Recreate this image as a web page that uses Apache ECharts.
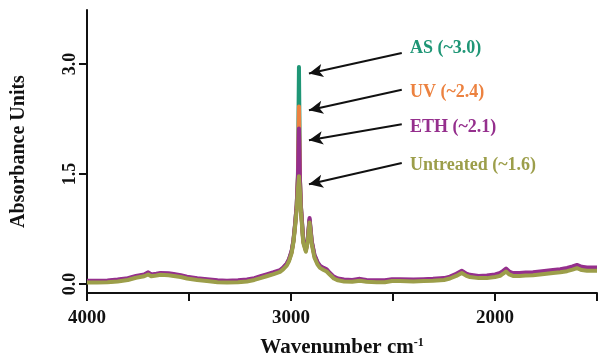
<!DOCTYPE html>
<html>
<head>
<meta charset="utf-8">
<script src="https://cdn.jsdelivr.net/npm/echarts@6/dist/echarts.min.js"></script>
<style>
  html, body { margin: 0; padding: 0; background: #fff; }
  #chart { width: 600px; height: 361px; }
</style>
</head>
<body>
<div id="chart"></div>
<script>
// wavenumber (cm-1), high to low
const wavenumbers = [
  4000, 3950, 3900, 3850, 3800, 3760, 3720, 3700, 3685, 3660,
  3640, 3600, 3575, 3540, 3510, 3460, 3412, 3360, 3314, 3260,
  3216, 3180, 3150, 3120, 3085, 3054, 3040, 3021, 3010, 2997,
  2988, 2980, 2972, 2966, 2961, 2956, 2951, 2940, 2927, 2918,
  2909, 2898, 2885, 2870, 2858, 2840, 2825, 2809, 2790, 2770,
  2740, 2700, 2662, 2630, 2580, 2540, 2505, 2466, 2400, 2350,
  2304, 2250, 2221, 2190, 2163, 2140, 2123, 2080, 2040, 2000,
  1975, 1960, 1946, 1930, 1912, 1880, 1850, 1814, 1780, 1716,
  1680, 1647, 1620, 1598, 1575, 1549, 1520, 1500
];

const asValues = [
  0.035, 0.035, 0.038, 0.05, 0.07, 0.10, 0.12, 0.15, 0.12, 0.13,
  0.14, 0.135, 0.125, 0.11, 0.09, 0.07, 0.055, 0.04, 0.035, 0.04,
  0.05, 0.07, 0.095, 0.12, 0.15, 0.18, 0.21, 0.27, 0.33, 0.44,
  0.59, 0.81, 1.08, 1.48, 2.96, 1.42, 1.04, 0.59, 0.46, 0.61,
  0.88, 0.57, 0.39, 0.29, 0.24, 0.21, 0.19, 0.14, 0.09, 0.065,
  0.05, 0.045, 0.06, 0.045, 0.04, 0.04, 0.055, 0.055, 0.05, 0.055,
  0.06, 0.07, 0.09, 0.13, 0.17, 0.13, 0.115, 0.10, 0.10, 0.115,
  0.135, 0.165, 0.195, 0.155, 0.135, 0.135, 0.14, 0.145, 0.155, 0.175,
  0.185, 0.205, 0.225, 0.245, 0.22, 0.21, 0.21, 0.21
];

const uvValues = [
  0.03, 0.03, 0.033, 0.045, 0.065, 0.095, 0.115, 0.145, 0.115, 0.125,
  0.135, 0.13, 0.12, 0.105, 0.085, 0.065, 0.05, 0.035, 0.03, 0.035,
  0.045, 0.065, 0.09, 0.115, 0.145, 0.175, 0.205, 0.265, 0.325, 0.435,
  0.585, 0.80, 1.07, 1.46, 2.42, 1.41, 1.03, 0.58, 0.455, 0.60,
  0.87, 0.56, 0.38, 0.28, 0.235, 0.205, 0.185, 0.135, 0.085, 0.06,
  0.045, 0.04, 0.055, 0.04, 0.035, 0.035, 0.05, 0.05, 0.045, 0.05,
  0.055, 0.065, 0.085, 0.125, 0.165, 0.125, 0.11, 0.095, 0.095, 0.11,
  0.125, 0.155, 0.185, 0.145, 0.125, 0.125, 0.13, 0.135, 0.145, 0.165,
  0.175, 0.195, 0.215, 0.235, 0.21, 0.20, 0.20, 0.20
];

const ethValues = [
  0.045, 0.045, 0.048, 0.06, 0.08, 0.11, 0.13, 0.16, 0.13, 0.14,
  0.15, 0.145, 0.135, 0.12, 0.10, 0.08, 0.065, 0.05, 0.045, 0.05,
  0.06, 0.08, 0.105, 0.13, 0.16, 0.19, 0.22, 0.28, 0.34, 0.45,
  0.60, 0.82, 1.08, 1.45, 2.12, 1.40, 1.05, 0.60, 0.47, 0.62,
  0.90, 0.58, 0.40, 0.30, 0.25, 0.22, 0.20, 0.15, 0.10, 0.075,
  0.06, 0.055, 0.07, 0.055, 0.05, 0.05, 0.065, 0.065, 0.06, 0.065,
  0.07, 0.08, 0.10, 0.14, 0.18, 0.14, 0.125, 0.11, 0.115, 0.13,
  0.15, 0.18, 0.21, 0.17, 0.15, 0.15, 0.155, 0.16, 0.17, 0.19,
  0.20, 0.22, 0.24, 0.26, 0.235, 0.225, 0.225, 0.225
];

const untreatedValues = [
  0.02, 0.02, 0.023, 0.035, 0.055, 0.085, 0.105, 0.13, 0.105, 0.115,
  0.125, 0.12, 0.11, 0.095, 0.075, 0.055, 0.04, 0.025, 0.02, 0.025,
  0.035, 0.055, 0.08, 0.105, 0.135, 0.165, 0.195, 0.25, 0.31, 0.42,
  0.57, 0.78, 1.02, 1.30, 1.47, 1.26, 0.98, 0.56, 0.44, 0.58,
  0.84, 0.54, 0.36, 0.265, 0.22, 0.19, 0.17, 0.125, 0.075, 0.05,
  0.035, 0.03, 0.045, 0.03, 0.025, 0.025, 0.04, 0.04, 0.035, 0.04,
  0.045, 0.055, 0.075, 0.11, 0.15, 0.11, 0.095, 0.08, 0.08, 0.095,
  0.11, 0.14, 0.17, 0.13, 0.11, 0.11, 0.115, 0.12, 0.13, 0.15,
  0.16, 0.175, 0.195, 0.215, 0.19, 0.18, 0.18, 0.18
];

const seriesNames = ['AS (~3.0)', 'UV (~2.4)', 'ETH (~2.1)', 'Untreated (~1.6)'];
const seriesColors = ['#1f9676', '#ec8240', '#952f8d', '#9c9e4a'];
const yTicks = [0, 1.5, 3.0];
const xLabelTicks = [4000, 3000, 2000];

// arrows: [startWn, startY, tipWn, tipY]
const arrows = [
  [2457, 3.15, 2912, 2.87],
  [2457, 2.65, 2912, 2.37],
  [2457, 2.18, 2912, 1.96],
  [2457, 1.65, 2912, 1.36]
];
const labelY = [48, 92, 127, 165];

const font = "'Liberation Serif', 'Times New Roman', serif";
const allValues = [asValues, uvValues, ethValues, untreatedValues];

const chart = echarts.init(document.getElementById('chart'), null, { renderer: 'canvas' });

const series = allValues.map((vals, i) => ({
  name: seriesNames[i],
  type: 'line',
  showSymbol: false,
  silent: true,
  smooth: false,
  lineStyle: { color: seriesColors[i], width: 4, join: 'round' },
  data: wavenumbers.map((w, k) => [w, vals[k]]),
  z: 2 + i
}));

series.push({
  type: 'line',
  data: [],
  silent: true,
  markLine: {
    silent: true,
    animation: false,
    symbol: ['none', 'arrow'],
    symbolSize: [10, 14],
    label: { show: false },
    lineStyle: { color: '#111', width: 2, type: 'solid' },
    data: arrows.map(a => [{ coord: [a[0], a[1]] }, { coord: [a[2], a[3]] }])
  },
  z: 10
});

const option = {
  animation: false,
  backgroundColor: '#fff',
  grid: { left: 87, right: 3, top: 10, bottom: 68, containLabel: false, outerBoundsMode: 'none' },
  xAxis: {
    type: 'value',
    inverse: true,
    min: 1500,
    max: 4000,
    interval: 500,
    name: 'Wavenumber cm{sup|-1}',
    nameLocation: 'middle',
    nameGap: 44,
    nameTextStyle: {
      fontFamily: font, fontWeight: 'bold', fontSize: 21, color: '#111',
      rich: {
        sup: { fontFamily: font, fontWeight: 'bold', fontSize: 12, color: '#111', verticalAlign: 'top', padding: [0, 0, 10, 0] }
      }
    },
    axisLine: { onZero: false, lineStyle: { color: '#111', width: 2 } },
    axisTick: { show: true, length: 8, lineStyle: { color: '#111', width: 2 } },
    axisLabel: {
      customValues: xLabelTicks,
      margin: 16,
      formatter: v => String(v),
      fontFamily: font, fontWeight: 'bold', fontSize: 19, color: '#111'
    },
    splitLine: { show: false }
  },
  yAxis: {
    type: 'value',
    min: -0.123,
    max: 3.737,
    name: 'Absorbance Units',
    nameLocation: 'middle',
    nameRotate: 90,
    nameGap: 58,
    nameTextStyle: { fontFamily: font, fontWeight: 'bold', fontSize: 20, color: '#111' },
    axisLine: { show: true, onZero: false, lineStyle: { color: '#111', width: 2 } },
    axisTick: { show: true, length: 8, customValues: yTicks, lineStyle: { color: '#111', width: 2 } },
    axisLabel: {
      customValues: yTicks,
      rotate: 90,
      margin: 8,
      formatter: v => v.toFixed(1),
      fontFamily: font, fontWeight: 'bold', fontSize: 18, color: '#111'
    },
    splitLine: { show: false }
  },
  graphic: seriesNames.map((n, i) => ({
    type: 'text',
    x: 410,
    y: labelY[i],
    silent: true,
    style: {
      text: n,
      fill: seriesColors[i],
      font: "bold 18px " + font,
      verticalAlign: 'middle'
    }
  })),
  series: series
};

chart.setOption(option);
</script>
</body>
</html>
